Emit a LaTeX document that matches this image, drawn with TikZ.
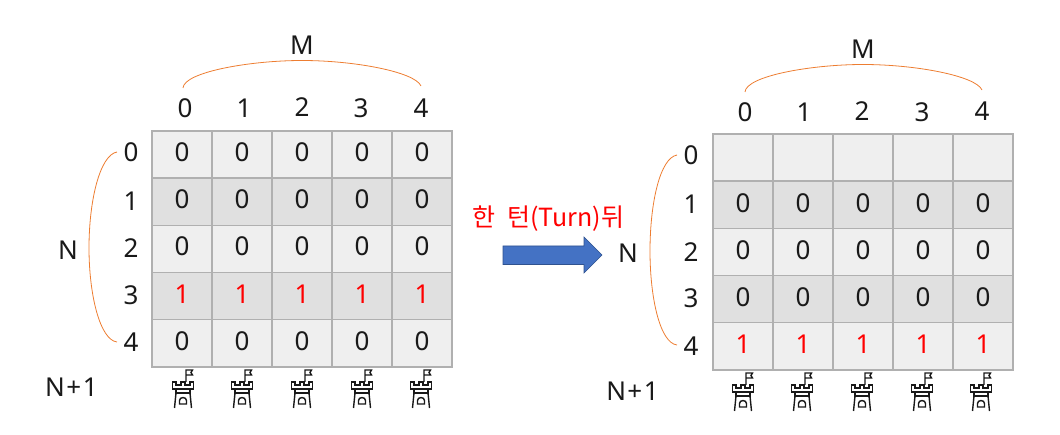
\documentclass[tikz,border=0pt]{standalone}
\usepackage{fontspec}
\setmainfont{Noto Sans}
\newfontfamily\krfont{Noto Sans CJK KR}
\definecolor{cellA}{HTML}{EFEFEF}
\definecolor{cellB}{HTML}{E0E0E0}
\definecolor{gridline}{HTML}{B0B0B0}
\definecolor{bracecol}{HTML}{ED7D31}
\definecolor{arrowfill}{HTML}{4472C4}
\definecolor{arrowedge}{HTML}{2F528F}
\tikzset{
  gridcell/.style={draw=gridline,line width=1.4pt,minimum width=60pt,minimum height=47.2pt,inner sep=0pt,anchor=center},
  lab/.style={inner sep=0pt,font=\fontsize{26}{28}\selectfont,text=black!90},
  redlab/.style={lab,text=red},
  bracecurve/.style={draw=bracecol,line width=0.8pt},
  towerline/.style={draw=black!90,line width=1.4pt,line cap=butt,line join=miter},
  pics/tower/.style={code={
    \draw[towerline] (3,-7) -- (3,-19) -- (9.5,-19) -- (8,-16.5) -- (9.5,-14) -- (3,-14);
    \draw[towerline] (-10.5,0) -- (-10.5,-7) -- (-7,-7) -- (-7,-4) -- (-2,-4) -- (-2,-7) -- (2,-7) -- (2,-4) -- (7,-4) -- (7,-7) -- (10.5,-7) -- (10.5,0) -- cycle;
    \draw[towerline] (-7,0) -- (-7,4) -- (7,4) -- (7,0);
    \draw[towerline] (-7,4) -- (-8.5,19) (7,4) -- (8.5,19);
    \draw[towerline] (-3.5,15) -- (-3.5,11.5) arc (180:360:3.5 and 3) -- (3.5,15) -- cycle;
  }}
}
\begin{document}
\begin{tikzpicture}[x=1pt,y=-1pt]
\useasboundingbox (0,0) rectangle (1060,435);
% ---------- left grid
\foreach \r/\rowy/\shade in {0/154.6/cellA,1/201.8/cellB,2/249/cellA,3/296.2/cellB,4/343.4/cellA}
  \foreach \c/\colx in {0/182,1/242,2/302,3/362,4/422}
    \node[gridcell,fill=\shade] (L\r\c) at (\colx,\rowy) {};
\foreach \r/\rowy in {0/152,1/199,2/246,4/341}
  \foreach \c/\colx in {0/182,1/242,2/302,3/362,4/422}
    \node[lab] (Lt\r\c) at (\colx,\rowy) {0};
\foreach \c/\colx in {0/182,1/242,2/302,3/362,4/422}
  \node[redlab] (Lt3\c) at (\colx,294) {1};
\foreach \c/\colx/\coly in {0/185/108,1/244/108,2/302/107,3/361/108,4/421/108}
  \node[lab] (Lh\c) at (\colx,\coly) {\c};
\foreach \r/\rowy in {0/152,1/201,2/248,3/295,4/342}
  \node[lab] (Ls\r) at (131,\rowy) {\r};
\node[lab] (LM) at (302,45) {M};
\node[lab] (LN) at (68,250) {N};
\node[lab] (LNp) at (71.5,387) {N\hspace{1.5pt}+\hspace{1.5pt}1};
\foreach \c/\colx in {0/183,1/242,2/302,3/362,4/421}
  \pic at (\colx,389) {tower};
\coordinate (LMa) at (183,88);
\coordinate (LMb) at (421,86);
\coordinate (LNa) at (117,152);
\coordinate (LNb) at (117,342);
\draw[bracecurve] (LMa) .. controls (184,72) and (250,60.5) .. (302,60.5) .. controls (355,60.5) and (415,72) .. (LMb);
\draw[bracecurve] (LNa) .. controls (100,155) and (89,200) .. (89,248) .. controls (89,295) and (100,340) .. (LNb);
% ---------- right grid
\foreach \r/\rowy/\shade in {0/157.6/cellA,1/204.8/cellB,2/252/cellA,3/299.2/cellB,4/346.4/cellA}
  \foreach \c/\colx in {0/743,1/803,2/863,3/923,4/983}
    \node[gridcell,fill=\shade] (R\r\c) at (\colx,\rowy) {};
\foreach \r/\rowy in {1/203,2/250,3/297}
  \foreach \c/\colx in {0/743,1/803,2/863,3/923,4/983}
    \node[lab] (Rt\r\c) at (\colx,\rowy) {0};
\foreach \c/\colx in {0/743,1/803,2/863,3/923,4/983}
  \node[redlab] (Rt4\c) at (\colx,344) {1};
\foreach \c/\colx/\coly in {0/745/112,1/804/112,2/862/111,3/922/112,4/982/111}
  \node[lab] (Rh\c) at (\colx,\coly) {\c};
\foreach \r/\rowy in {0/155,1/204,2/252,3/298,4/346}
  \node[lab] (Rs\r) at (691,\rowy) {\r};
\node[lab] (RM) at (863,49) {M};
\node[lab] (RN) at (628,253) {N};
\node[lab] (RNp) at (632.5,391) {N\hspace{1.5pt}+\hspace{1.5pt}1};
\foreach \c/\colx in {0/743,1/802,2/862,3/922,4/981}
  \pic at (\colx,392) {tower};
\coordinate (RMa) at (745,92);
\coordinate (RMb) at (982,90);
\coordinate (RNa) at (677,155);
\coordinate (RNb) at (677,345);
\draw[bracecurve] (RMa) .. controls (746,76) and (811,64.5) .. (863,64.5) .. controls (916,64.5) and (976,76) .. (RMb);
\draw[bracecurve] (RNa) .. controls (660,158) and (650,203) .. (650,251) .. controls (650,298) and (660,343) .. (RNb);
% ---------- centre arrow and caption
\node[redlab,font=\fontsize{25}{28}\selectfont\krfont,inner sep=0pt] (title) at (548.5,219) {한\hspace{6pt} 턴(Turn)뒤};
\draw[draw=arrowedge,fill=arrowfill,line width=0.6pt] (503,246) -- (584,246) -- (584,237) -- (602,255) -- (584,273) -- (584,264.5) -- (503,264.5) -- cycle;
\end{tikzpicture}
\end{document}
